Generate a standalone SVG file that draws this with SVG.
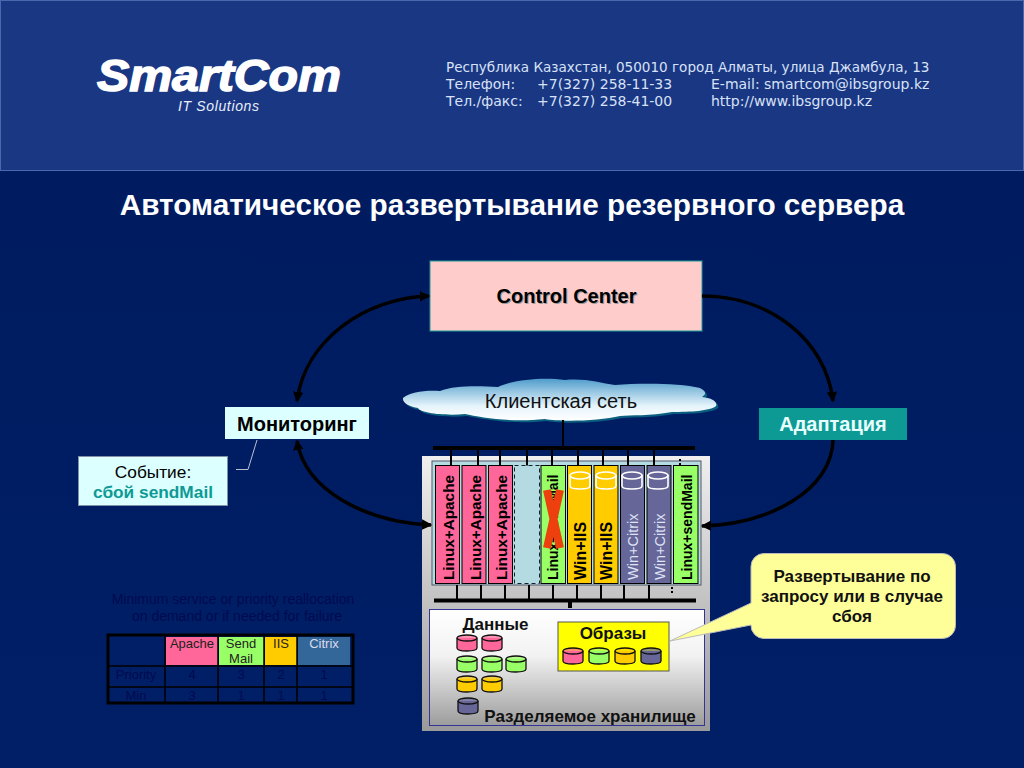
<svg xmlns="http://www.w3.org/2000/svg" width="1024" height="768" viewBox="0 0 1024 768">
<style>
text{font-family:"Liberation Sans",Arial,sans-serif}
.b{font-weight:bold}
.c{text-anchor:middle}
.wire{stroke:#000;fill:none}
.arc{stroke:#000;stroke-width:3.500;fill:none}
.blade{stroke:#000;stroke-width:1}
.dim{fill:#000a50;font-size:14px}
.cell{font-size:13px;fill:#000a50;text-anchor:middle}
.head{fill:#222}
.contact{font-family:"DejaVu Sans",sans-serif;font-size:14px;fill:#d8e2f6}
.apache{font-size:15.300px;font-weight:bold;fill:#000}
.send{font-size:14px;font-weight:bold;fill:#000}
.iis{font-size:16px;font-weight:bold;fill:#000}
.citrix{font-size:14.500px;fill:#dfe3f5}
</style>
<defs>
<linearGradient id="bg" x1="0" y1="0" x2="0" y2="1"><stop offset="0" stop-color="#001a5e"/><stop offset="1" stop-color="#001f66"/></linearGradient>
<linearGradient id="rack" x1="0" y1="0" x2="0" y2="1"><stop offset="0" stop-color="#efefef"/><stop offset="1" stop-color="#9a9a9a"/></linearGradient>
<linearGradient id="store" x1="0" y1="0" x2="0" y2="1"><stop offset="0" stop-color="#fff"/><stop offset="0.4" stop-color="#f2f2f2"/><stop offset="1" stop-color="#9c9c9c"/></linearGradient>
<linearGradient id="cloud" x1="0" y1="0" x2="0" y2="1"><stop offset="0" stop-color="#4f9ccb"/><stop offset="0.65" stop-color="#e6f4fb"/><stop offset="1" stop-color="#fff"/></linearGradient>
<marker id="ah" markerWidth="3" markerHeight="3" refX="2.600" refY="1.500" orient="auto-start-reverse"><path d="M0 0L3 1.500L0 3z" fill="#000"/></marker>
<g id="cyl"><path d="M0 3V13C0 15 4 16 10 16S20 15 20 13V3" stroke="#111" stroke-width="1.300"/><ellipse cx="10" cy="3" rx="10" ry="3" stroke="#111" stroke-width="1.300" fill-opacity="0.7"/></g>
<g id="cylw"><path d="M0 3V14C0 16 4 17 10 17S20 16 20 14V3" fill="none" stroke="#fff" stroke-width="1.600"/><ellipse cx="10" cy="3.500" rx="10" ry="3.500" fill="none" stroke="#fff" stroke-width="1.600"/></g>
</defs>
<rect width="1024" height="768" fill="url(#bg)"/>
<g id="header">
<rect x="0.500" y="0.500" width="1023" height="170" fill="#1a3784" stroke="#4a68ad"/>
<text x="97" y="91" font-size="44" font-weight="bold" font-style="italic" fill="#fff" stroke="#fff" stroke-width="1.500" textLength="244" lengthAdjust="spacingAndGlyphs">SmartCom</text>
<text x="178" y="111" font-size="14" font-style="italic" fill="#e8eefb" textLength="81">IT Solutions</text>
<text class="contact" x="446" y="72" style="font-size:13.550px">Республика Казахстан, 050010 город Алматы, улица Джамбула, 13</text>
<text class="contact" x="446" y="89">Телефон:</text><text class="contact" x="537" y="89">+7(327) 258-11-33</text><text class="contact" x="711" y="89">E-mail: smartcom@ibsgroup.kz</text>
<text class="contact" x="446" y="106">Тел./факс:</text><text class="contact" x="537" y="106">+7(327) 258-41-00</text><text class="contact" x="711" y="106">http://www.ibsgroup.kz</text>
</g>
<text id="title" x="512" y="215" class="b c" font-size="29.750" fill="#fff">Автоматическое развертывание резервного сервера</text>
<g id="control-center"><rect x="430" y="261" width="272" height="70" fill="#ffcccc" stroke="#1f9a96"/>
<text x="567.500" y="304" class="b c" font-size="20" fill="#999">Control Center</text><text x="566.500" y="303" class="b c" font-size="20">Control Center</text></g>
<g id="cloud-net">
<path transform="translate(2 2)" d="M403 398C410 392 425 390 440 391C455 385 480 386 498 387C515 379 545 377 565 380C585 378 600 383 615 385C640 383 680 383 700 388C708 392 705 395 702 397C712 398 718 402 716 406C710 411 690 412 672 412C650 416 630 415 620 416C600 421 560 422 545 419C510 423 480 417 465 414C445 416 420 413 418 408C410 407 402 403 403 398z" fill="#0a5f80"/>
<path d="M403 398C410 392 425 390 440 391C455 385 480 386 498 387C515 379 545 377 565 380C585 378 600 383 615 385C640 383 680 383 700 388C708 392 705 395 702 397C712 398 718 402 716 406C710 411 690 412 672 412C650 416 630 415 620 416C600 421 560 422 545 419C510 423 480 417 465 414C445 416 420 413 418 408C410 407 402 403 403 398z" fill="url(#cloud)"/>
<text x="561" y="408" class="c" font-size="20" fill="#111">Клиентская сеть</text></g>
<g id="monitoring"><rect x="225" y="407" width="144" height="32" fill="#dcffff"/><text x="297" y="431" class="b c" font-size="20" fill="#000">Мониторинг</text></g>
<g id="adaptation"><rect x="759" y="408" width="148" height="32" fill="#0e9a94"/><text x="833" y="431" class="b c" font-size="20" fill="#e8ffff">Адаптация</text></g>
<g id="event"><rect x="78.500" y="456.500" width="149" height="49" fill="#dcffff" stroke="#8090a8"/>
<text x="153" y="478" class="c" font-size="17.300" fill="#000">Событие:</text><text x="153" y="498" class="b c" font-size="17.300" fill="#0e9a94">сбой sendMail</text></g>
<g id="server-rack">
<rect x="422" y="456" width="288" height="275" fill="url(#rack)"/>
<rect x="432" y="461" width="269" height="124" fill="#b5dbe2" stroke="#556"/>
<g class="wire" stroke-width="4"><path d="M433 448H695"/><path d="M434 600.500H696"/></g>
<g class="wire" stroke-width="2"><path d="M563 420V447M451 449V465M478 449V465M500 449V465M527 449V475M552 449V465M578 449V465M603 449V465M628 449V465M654 449V465M457 585V599M481 585V599M505 585V599M529 585V599M553 585V599M577 585V599M601 585V599M624 585V599M649 585V599"/><path d="M680 459V465M672 587V594" stroke-dasharray="2 2"/><path d="M570 602V608" stroke-width="4"/></g>
<rect class="blade" x="435.500" y="465.500" width="24" height="118" fill="#ff6699"/>
<rect class="blade" x="462" y="465.500" width="24" height="118" fill="#ff6699"/>
<rect class="blade" x="488.500" y="465.500" width="24" height="118" fill="#ff6699"/>
<rect x="514.500" y="465.500" width="25" height="118" fill="#b5dbe2" stroke="#123" stroke-dasharray="4 3"/>
<rect class="blade" x="541" y="465.500" width="24.500" height="118" fill="#99ff66"/>
<rect class="blade" x="567.500" y="465.500" width="24" height="118" fill="#ffcc00"/>
<rect class="blade" x="594" y="465.500" width="24" height="118" fill="#ffcc00"/>
<rect class="blade" x="620.500" y="465.500" width="24" height="118" fill="#666699"/>
<rect class="blade" x="647" y="465.500" width="24" height="118" fill="#666699"/>
<rect class="blade" x="673.500" y="465.500" width="24.500" height="118" fill="#99ff66"/>
<text class="apache" transform="translate(454 580) rotate(-90)">Linux+Apache</text>
<text class="apache" transform="translate(481 580) rotate(-90)">Linux+Apache</text>
<text class="apache" transform="translate(507 580) rotate(-90)">Linux+Apache</text>
<text class="send" transform="translate(558 580) rotate(-90)">Linux+sendMail</text>
<text class="iis" transform="translate(586 580) rotate(-90)">Win+IIS</text>
<text class="iis" transform="translate(612 580) rotate(-90)">Win+IIS</text>
<text class="citrix" transform="translate(638 580) rotate(-90)">Win+Citrix</text>
<text class="citrix" transform="translate(665 580) rotate(-90)">Win+Citrix</text>
<text class="send" transform="translate(692 580) rotate(-90)">Linux+sendMail</text>
<use href="#cylw" x="570" y="472"/><use href="#cylw" x="596" y="472"/><use href="#cylw" x="622" y="472"/><use href="#cylw" x="648" y="472"/>
<path d="M547 490L560 548M560 490L547 548" stroke="#ee3f0e" stroke-width="8" fill="none"/>
</g>
<g id="storage">
<rect x="429.500" y="609.500" width="275" height="116" fill="url(#store)" stroke="#33339a"/>
<text x="495.500" y="630" class="b c" font-size="17" fill="#111">Данные</text>
<use href="#cyl" x="457" y="635" fill="#ff6699"/><use href="#cyl" x="482" y="635" fill="#ff6699"/>
<use href="#cyl" x="457" y="656" fill="#99ff66"/><use href="#cyl" x="482" y="656" fill="#99ff66"/><use href="#cyl" x="506" y="656" fill="#99ff66"/>
<use href="#cyl" x="457" y="676" fill="#ffcc00"/><use href="#cyl" x="482" y="676" fill="#ffcc00"/>
<use href="#cyl" x="458" y="698" fill="#666699"/>
<text x="590" y="722" class="b c" font-size="17" fill="#111">Разделяемое хранилище</text>
<rect x="558" y="622" width="111" height="49" fill="#ffff00" stroke="#555"/>
<text x="613" y="639" class="b c" font-size="17" fill="#111">Образы</text>
<use href="#cyl" x="563" y="648" fill="#ff6699"/><use href="#cyl" x="589" y="648" fill="#99ff66"/><use href="#cyl" x="615" y="648" fill="#ffcc00"/><use href="#cyl" x="641" y="648" fill="#666699"/>
</g>
<g id="connectors">
<path class="arc" marker-start="url(#ah)" marker-end="url(#ah)" d="M429 296C365 298 305 340 297 401"/>
<path class="arc" marker-end="url(#ah)" d="M702 296C770 296 826 340 833 401"/>
<path class="arc" marker-start="url(#ah)" marker-end="url(#ah)" d="M297 441C305 490 365 522 431 525"/>
<path class="arc" marker-end="url(#ah)" d="M833 440C832 490 770 524 702 526"/>
<path d="M236 469.500H248L257 440" fill="none" stroke="#b8c0d0" stroke-width="1"/>
</g>
<g id="callout"><path d="M764 553.500H942.500A13 13 0 0 1 955.500 566.500V625.500A13 13 0 0 1 942.500 638.500H764A13 13 0 0 1 751 625L670 641L751 603V566.500A13 13 0 0 1 764 553.500z" fill="#ffff99" stroke="#bbb"/>
<g class="b c" font-size="17" fill="#111"><text x="852" y="582">Развертывание по</text><text x="852" y="602">запросу или в случае</text><text x="852" y="622">сбоя</text></g></g>
<g id="policy">
<text x="233" y="604" class="dim c">Minimum service or priority reallocation</text>
<text x="237" y="621" class="dim c">on demand or if needed for failure</text>
<rect x="108" y="635" width="245" height="68" fill="#001f66" stroke="#000" stroke-width="3"/>
<rect x="166" y="637" width="52" height="28" fill="#ff6699"/><rect x="219" y="637" width="45" height="28" fill="#99ff66"/><rect x="265" y="637" width="32" height="28" fill="#ffcc00"/><rect x="298" y="637" width="52" height="28" fill="#336699"/>
<path d="M108 666H353M108 687H353M165 635V703M218 635V703M264 635V703M297 635V703" stroke="#000" stroke-width="1.500" fill="none"/>
<text x="192" y="648" class="cell head">Apache</text><text x="241" y="648" class="cell head">Send</text><text x="241" y="663" class="cell head">Mail</text><text x="281" y="648" class="cell head">IIS</text><text x="324" y="648" class="cell" style="fill:#dde">Citrix</text>
<text x="136" y="679" class="cell">Priority</text><text x="192" y="679" class="cell">4</text><text x="241" y="679" class="cell">3</text><text x="281" y="679" class="cell">2</text><text x="324" y="679" class="cell">1</text>
<text x="136" y="700" class="cell">Min</text><text x="192" y="700" class="cell">3</text><text x="241" y="700" class="cell">1</text><text x="281" y="700" class="cell">1</text><text x="324" y="700" class="cell">1</text>
</g>
</svg>
